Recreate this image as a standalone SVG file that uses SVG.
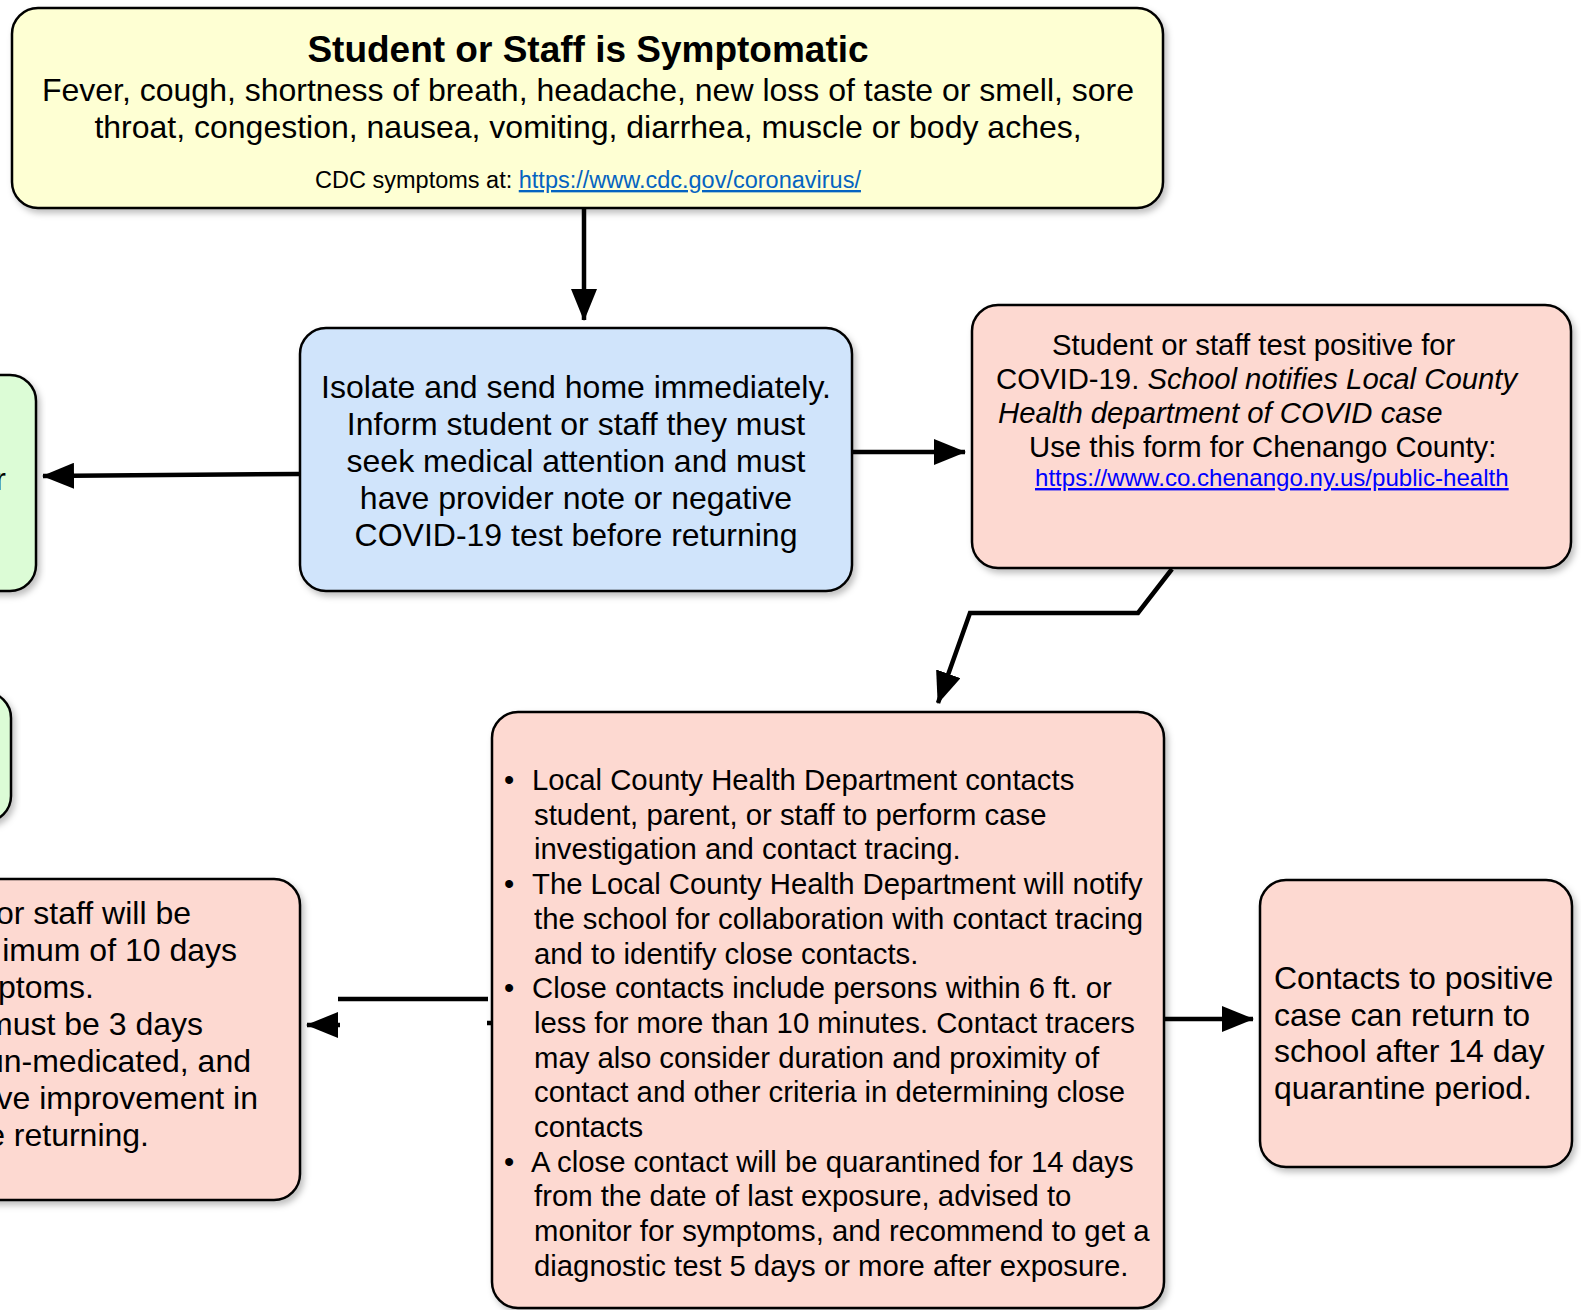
<svg xmlns="http://www.w3.org/2000/svg" width="1581" height="1310" viewBox="0 0 1581 1310">
  <defs>
    <filter id="sh" x="-10%" y="-10%" width="120%" height="130%">
      <feDropShadow dx="3" dy="4" stdDeviation="3" flood-color="#000" flood-opacity="0.25"/>
    </filter>
    <marker id="ah" markerUnits="userSpaceOnUse" viewBox="0 0 32 26" refX="31" refY="13" markerWidth="32" markerHeight="26" orient="auto">
      <path d="M0,0 L32,13 L0,26 Z" fill="#000"/>
    </marker>
    <style>
      .box { stroke:#000; stroke-width:2.5; filter:url(#sh); }
      .yel { fill:#FEFFD3; }
      .blu { fill:#D0E4FB; }
      .red { fill:#FDD9D1; }
      .grn { fill:#DCFCD6; }
      text { font-family:"Liberation Sans", Arial, sans-serif; fill:#000; }
      .t32 { font-size:32px; }
      .t29 { font-size:29.3px; }
      .link1 { fill:#0563C1; text-decoration:underline; }
      .link2 { fill:#0000FF; text-decoration:underline; }
      .conn { fill:none; stroke:#000; stroke-width:4.5; }
    </style>
  </defs>
  <rect width="1581" height="1310" fill="#fff"/>

  <g id="node-symptomatic">
    <rect class="box yel" x="12" y="8" width="1151" height="200" rx="26"/>
    <text x="588" y="62" text-anchor="middle" font-size="37" font-weight="bold">Student or Staff is Symptomatic</text>
    <text class="t32" x="588" y="101" text-anchor="middle">Fever, cough, shortness of breath, headache, new loss of taste or smell, sore</text>
    <text class="t32" x="588" y="138" text-anchor="middle">throat, congestion, nausea, vomiting, diarrhea, muscle or body aches,</text>
    <text x="588" y="188" text-anchor="middle" font-size="23.5">CDC symptoms at: <tspan class="link1">https://www.cdc.gov/coronavirus/</tspan></text>
  </g>

  <g id="node-isolate">
    <rect class="box blu" x="300" y="328" width="552" height="263" rx="26"/>
    <g class="t32" text-anchor="middle">
      <text x="576" y="398">Isolate and send home immediately.</text>
      <text x="576" y="435">Inform student or staff they must</text>
      <text x="576" y="472">seek medical attention and must</text>
      <text x="576" y="509">have provider note or negative</text>
      <text x="576" y="546">COVID-19 test before returning</text>
    </g>
  </g>

  <g id="node-positive">
    <rect class="box red" x="972" y="305" width="599" height="263" rx="26"/>
    <g class="t29">
      <text x="1052" y="355">Student or staff test positive for</text>
      <text x="996" y="389">COVID-19. <tspan font-style="italic">School notifies Local County</tspan></text>
      <text x="998" y="423" font-style="italic">Health department of COVID case</text>
      <text x="1029" y="457">Use this form for Chenango County:</text>
    </g>
    <text x="1035" y="486" font-size="24.1" class="link2">https://www.co.chenango.ny.us/public-health</text>
  </g>

  <g id="node-green-top">
    <rect class="box grn" x="-60" y="375" width="96" height="216" rx="26"/>
    <text class="t32" x="6" y="490" text-anchor="end">r</text>
  </g>

  <g id="node-green-bottom">
    <rect class="box grn" x="-80" y="692" width="91" height="130" rx="26"/>
  </g>

  <g id="node-isolation-left">
    <rect class="box red" x="-60" y="879" width="360" height="321" rx="26"/>
    <g class="t32" text-anchor="end">
      <text x="191" y="924">or staff will be</text>
      <text x="237" y="961">imum of 10 days</text>
      <text x="94" y="998">ptoms.</text>
      <text x="203" y="1035">must be 3 days</text>
      <text x="251" y="1072">un-medicated, and</text>
      <text x="258" y="1109">ve improvement in</text>
      <text x="149" y="1146">e returning.</text>
    </g>
  </g>

  <g id="node-tracing">
    <rect class="box red" x="492" y="712" width="672" height="596" rx="26"/>
    <g class="t29">
      <text x="504" y="790">•</text>
      <text x="532" y="790">Local County Health Department contacts</text>
      <text x="534" y="824.7">student, parent, or staff to perform case</text>
      <text x="534" y="859.4">investigation and contact tracing.</text>
      <text x="504" y="894.1">•</text>
      <text x="532" y="894.1">The Local County Health Department will notify</text>
      <text x="534" y="928.8">the school for collaboration with contact tracing</text>
      <text x="534" y="963.5">and to identify close contacts.</text>
      <text x="504" y="998.2">•</text>
      <text x="532" y="998.2">Close contacts include persons within 6 ft. or</text>
      <text x="534" y="1032.9">less for more than 10 minutes. Contact tracers</text>
      <text x="534" y="1067.6">may also consider duration and proximity of</text>
      <text x="534" y="1102.3">contact and other criteria in determining close</text>
      <text x="534" y="1137">contacts</text>
      <text x="504" y="1171.7">•</text>
      <text x="531" y="1171.7">A close contact will be quarantined for 14 days</text>
      <text x="534" y="1206.4">from the date of last exposure, advised to</text>
      <text x="534" y="1241.1">monitor for symptoms, and recommend to get a</text>
      <text x="534" y="1275.8">diagnostic test 5 days or more after exposure.</text>
    </g>
  </g>

  <g id="node-contacts-return">
    <rect class="box red" x="1260" y="880" width="312" height="287" rx="26"/>
    <g class="t32">
      <text x="1274" y="989">Contacts to positive</text>
      <text x="1274" y="1026">case can return to</text>
      <text x="1274" y="1062">school after 14 day</text>
      <text x="1274" y="1099">quarantine period.</text>
    </g>
  </g>

  <g id="connectors">
    <path class="conn" d="M584,208 L584,320" marker-end="url(#ah)"/>
    <path class="conn" d="M299,474 L43,476" marker-end="url(#ah)"/>
    <path class="conn" d="M853,452 L965,452" marker-end="url(#ah)"/>
    <path class="conn" d="M1172,569 L1138,613 L970,613 L938,703" marker-end="url(#ah)"/>
    <path class="conn" d="M338,999 L488,999"/>
    <path class="conn" d="M340,1025 L307,1025" marker-end="url(#ah)"/>
    <path class="conn" d="M487,1023 L493,1023"/>
    <path class="conn" d="M1165,1019 L1253,1019" marker-end="url(#ah)"/>
  </g>
</svg>
